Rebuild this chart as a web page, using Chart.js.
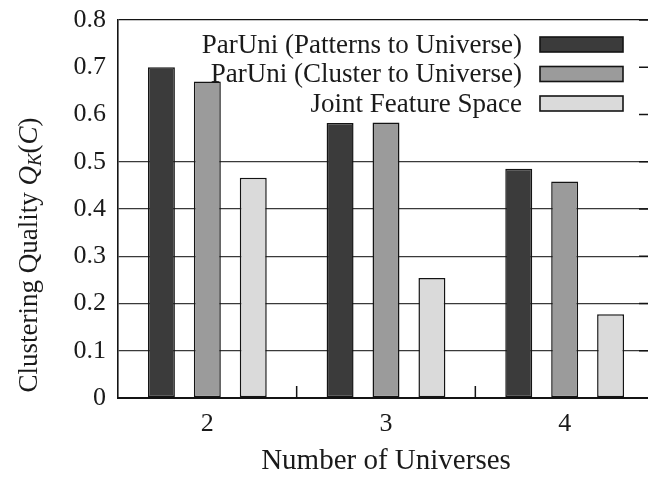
<!DOCTYPE html>
<html>
<head>
<meta charset="utf-8">
<script src="https://cdn.jsdelivr.net/npm/chart.js@4/dist/chart.umd.min.js"></script>
<style>
  html, body { margin: 0; padding: 0; background: #fff; overflow: hidden; }
  #frame { width: 648px; height: 477px; overflow: hidden; position: relative; background: #fff; }
  #c { display: block; }
</style>
</head>
<body>
<div id="frame"><canvas id="c" width="660" height="477"></canvas></div>
<script>
// Number of universes on the x axis
const categories = ['2', '3', '4'];

// Clustering quality per method
const seriesNames = [
  'ParUni (Patterns to Universe)',
  'ParUni (Cluster to Universe)',
  'Joint Feature Space'
];
const patternsToUniverse = [0.700, 0.582, 0.485];
const clusterToUniverse  = [0.670, 0.583, 0.458];
const jointFeatureSpace  = [0.466, 0.254, 0.177];

// Y axis tick labels
const yTickLabels = ['0', '0.1', '0.2', '0.3', '0.4', '0.5', '0.6', '0.7', '0.8'];

const FONT = 'Liberation Serif, Times New Roman, serif';
const FONT_SIZE = 26;
const fills = ['#3b3b3b', '#9b9b9b', '#dadada'];
const edge = '#141414';

// Legend drawn inside the plot: right-aligned labels, swatch to the right
const keyPlugin = {
  id: 'key',
  afterDatasetsDraw(chart) {
    const ctx = chart.ctx;
    const rowY = [44.5, 74, 103.5];
    ctx.save();
    ctx.font = '27px ' + FONT;
    ctx.fillStyle = '#1a1a1a';
    ctx.textAlign = 'right';
    ctx.textBaseline = 'middle';
    seriesNames.forEach((name, i) => {
      ctx.fillText(name, 522, rowY[i] + 1);
      ctx.fillStyle = fills[i];
      ctx.fillRect(540, rowY[i] - 7.5, 83, 15);
      ctx.lineWidth = 1.6;
      ctx.strokeStyle = edge;
      ctx.strokeRect(540, rowY[i] - 7.5, 83, 15);
      ctx.fillStyle = '#1a1a1a';
    });
    ctx.restore();
  }
};

// Inward tick marks: x ticks between groups, mirrored y ticks on the right border
const marksPlugin = {
  id: 'marks',
  afterDraw(chart) {
    const ctx = chart.ctx;
    const xs = chart.scales.x, ys = chart.scales.y;
    const area = chart.chartArea;
    ctx.save();
    ctx.strokeStyle = edge;
    ctx.lineWidth = 1.5;
    ctx.beginPath();
    for (let i = 0; i < categories.length - 1; i++) {
      const x = (xs.getPixelForValue(i) + xs.getPixelForValue(i + 1)) / 2;
      ctx.moveTo(x, area.bottom);
      ctx.lineTo(x, area.bottom - 12);
    }
    yTickLabels.forEach(t => {
      const y = ys.getPixelForValue(parseFloat(t));
      ctx.moveTo(area.right, y);
      ctx.lineTo(area.right - 15, y);
    });
    ctx.stroke();
    ctx.restore();
  }
};

// Rotated y-axis title with italic Q_K(C)
const yTitlePlugin = {
  id: 'yTitle',
  afterDraw(chart) {
    const ctx = chart.ctx;
    const parts = [
      { t: 'Clustering Quality ', f: '27px ' + FONT, dy: 0 },
      { t: 'Q', f: 'italic 27px ' + FONT, dy: 0 },
      { t: 'K', f: 'italic 19px ' + FONT, dy: 6 },
      { t: '(', f: '27px ' + FONT, dy: 0 },
      { t: 'C', f: 'italic 27px ' + FONT, dy: 0 },
      { t: ')', f: '27px ' + FONT, dy: 0 }
    ];
    ctx.save();
    let total = 0;
    parts.forEach(p => { ctx.font = p.f; p.w = ctx.measureText(p.t).width; total += p.w; });
    ctx.translate(30, 255);
    ctx.rotate(-Math.PI / 2);
    ctx.fillStyle = '#1a1a1a';
    ctx.textBaseline = 'middle';
    ctx.textAlign = 'left';
    let x = -total / 2;
    parts.forEach(p => {
      ctx.font = p.f;
      ctx.fillText(p.t, x, p.dy);
      x += p.w;
    });
    ctx.restore();
  }
};

const ds = (label, data, i) => ({
  label,
  data,
  backgroundColor: fills[i],
  borderColor: edge,
  borderWidth: 1.5,
  borderSkipped: false,
  categoryPercentage: 0.771,
  barPercentage: 0.587
});

new Chart(document.getElementById('c'), {
  type: 'bar',
  data: {
    labels: categories,
    datasets: [
      ds(seriesNames[0], patternsToUniverse, 0),
      ds(seriesNames[1], clusterToUniverse, 1),
      ds(seriesNames[2], jointFeatureSpace, 2)
    ]
  },
  plugins: [keyPlugin, marksPlugin, yTitlePlugin],
  options: {
    responsive: false,
    devicePixelRatio: 1,
    animation: false,
    layout: { padding: { left: 0, right: 6, top: 20, bottom: 0 } },
    plugins: { legend: { display: false }, tooltip: { enabled: false } },
    scales: {
      x: {
        offset: true,
        grid: { display: false, drawTicks: false },
        border: { display: true, color: edge, width: 2 },
        ticks: { color: '#1a1a1a', padding: 11, font: { family: FONT, size: FONT_SIZE } },
        title: {
          display: true,
          text: 'Number of Universes',
          color: '#1a1a1a',
          font: { family: FONT, size: 29 },
          padding: { top: 0, bottom: -2 }
        },
        afterFit(s) { s.height = 79; s.paddingLeft = 0; s.paddingRight = 0; }
      },
      y: {
        min: 0,
        max: 0.8,
        grid: {
          drawTicks: false,
          lineWidth: 1.3,
          color(c) {
            const v = c.tick ? c.tick.value : 0;
            if (v > 0.55 && v < 0.75) return 'rgba(0,0,0,0)';
            if (v > 0.75) return edge;
            return '#3a3a3a';
          }
        },
        border: { display: true, color: edge, width: 1.6 },
        ticks: {
          stepSize: 0.1,
          padding: 12,
          color: '#1a1a1a',
          font: { family: FONT, size: FONT_SIZE },
          callback(v, i) { return yTickLabels[i]; }
        },
        afterFit(s) { s.width = 118; s.paddingTop = 0; s.paddingBottom = 0; }
      }
    }
  }
});
</script>
</body>
</html>
